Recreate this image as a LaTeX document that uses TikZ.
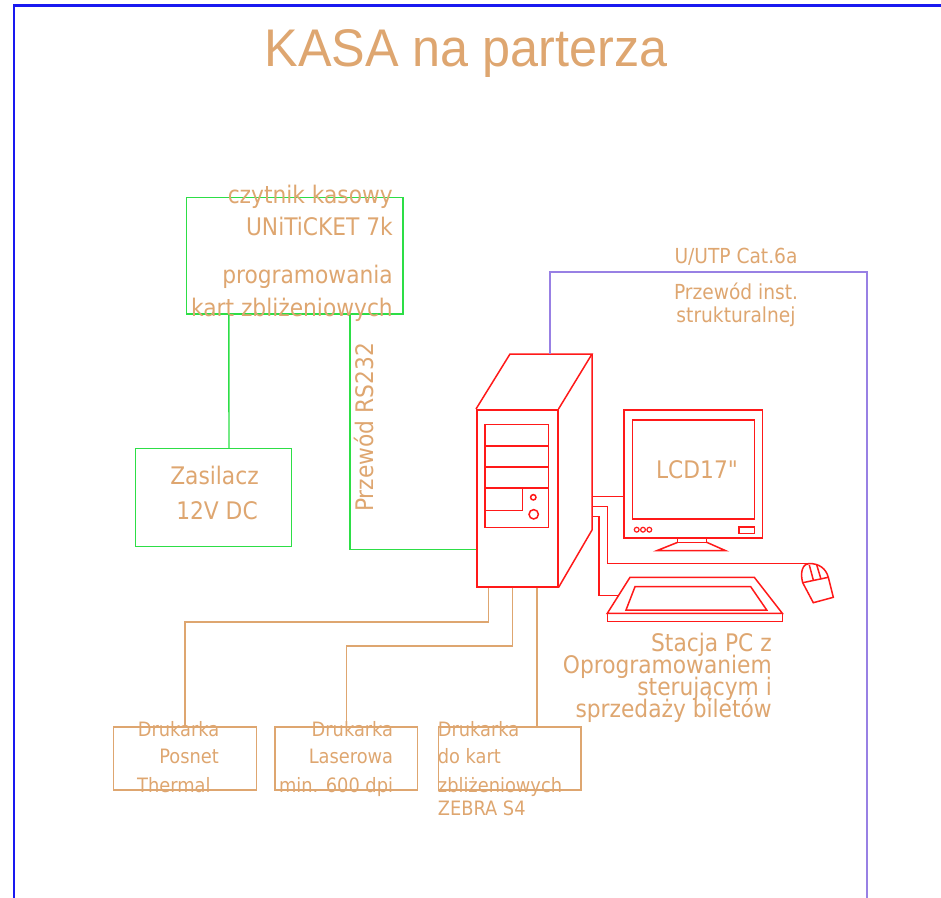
\documentclass[tikz,border=0pt]{standalone}
\usepackage{fontspec}
\setmainfont{DejaVu Sans Condensed}
\newfontfamily\titlefont{Liberation Sans}
\newfontfamily\plainfont{DejaVu Sans Condensed}
\definecolor{labeltan}{RGB}{222,166,112}
\definecolor{wiregreen}{RGB}{45,222,70}
\definecolor{frameblue}{RGB}{25,25,240}
\definecolor{lanviolet}{RGB}{152,128,228}
\definecolor{pcred}{RGB}{255,25,25}
\tikzset{
  box/.style={draw, inner sep=0pt, anchor=north west},
  greenbox/.style={box, draw=wiregreen, line width=1.4pt},
  tanbox/.style={box, draw=labeltan, line width=1.6pt},
  greenwire/.style={draw=wiregreen, line width=1.4pt},
  tanwire/.style={draw=labeltan, line width=1.6pt},
  lanwire/.style={draw=lanviolet, line width=1.9pt},
  pcline/.style={draw=pcred, line width=1.5pt},
  lbl/.style={text=labeltan, inner sep=0pt},
  lblA/.style={lbl, font=\fontsize{24.2}{28}\selectfont},
  lblB/.style={lbl, font=\fontsize{20.7}{24}\selectfont},
  lblC/.style={lbl, font=\fontsize{19.8}{24}\selectfont},
}
\begin{document}
\begin{tikzpicture}[x=1pt,y=-1pt]
\useasboundingbox (0,0) rectangle (941,897);

% outer frame
\draw[frameblue, line width=2.4pt] (14,905) -- (14,5.5) -- (950,5.5);

% title
\node[lbl, font=\titlefont\fontsize{53}{60}\selectfont, anchor=base, xscale=0.95] (title) at (466,66) {KASA na parterza};

% card reader
\node[greenbox, minimum width=216.5pt, minimum height=116.5pt] (reader) at (185.8,196.8) {};
\node[lblA, anchor=base east] (rd1) at (393,203) {czytnik kasowy};
\node[lblA, anchor=base east] (rd2) at (393,235) {UNiTiCKET 7k};
\node[lblA, anchor=base east] (rd3) at (393,283) {programowania};
\node[lblA, anchor=base east] (rd4) at (393,316) {kart zbliżeniowych};

% power supply
\node[greenbox, minimum width=156pt, minimum height=98pt] (supply) at (135,448) {};
\node[lblA, anchor=base] (ps1) at (214.5,484) {Zasilacz};
\node[lblA, anchor=base] (ps2) at (217,519) {12V DC};

% PC tower: front face
\node[box, draw=pcred, line width=1.5pt, minimum width=81pt, minimum height=177pt] (tower) at (476,409) {};
\coordinate (topBL) at (510,354);
\coordinate (topBR) at (592,354);
\coordinate (sideB) at (592,530);
\draw[pcline] (tower.north west) -- (topBL) -- (topBR) -- (tower.north east);
\draw[pcline] (topBR) -- (sideB) -- (tower.south east);
% drive bays and buttons
\draw[pcline] (485,424.3) rectangle (548.7,527.3);
\draw[pcred, line width=2pt] (485,446) -- (548.7,446) (485,467) -- (548.7,467);
\draw[pcline] (485,488) -- (548.7,488);
\draw[pcline] (485,488) rectangle (522.3,510.3);
\draw[pcline] (533.3,497.3) circle (2.7);
\draw[pcline] (533.7,514.3) circle (4.7);

% monitor
\node[box, draw=pcred, line width=1.5pt, minimum width=138.4pt, minimum height=128.3pt] (monitor) at (623.3,409) {};
\draw[pcline] (632.7,420) rectangle (754.3,519);
\node[lblA, font=\plainfont\fontsize{24.2}{28}\selectfont, anchor=center] (lcd) at (697,470) {LCD17"};
\foreach \cx in {636.7,643,649.3} \draw[pcred, line width=1.2pt] (\cx,529.7) circle (2.4);
\draw[pcline] (739,527) rectangle (754.3,533.3);
\draw[pcline] (677.7,537.3) rectangle (706.7,542.3);
\draw[pcline] (677.7,542.3) -- (656.7,550.7) -- (725.7,550.7) -- (706.7,542.3);

% keyboard
\draw[pcline] (630,577.3) -- (754.3,577.3) -- (782.3,613.3) -- (607.3,613.3) -- cycle;
\draw[pcline] (607.3,613.3) rectangle (782.3,621.7);
\draw[pcline] (635,586.7) -- (750.7,586.7) -- (766.7,610) -- (626,610) -- cycle;
\coordinate (kbport) at (618.4,595.7);

% mouse
\coordinate (mouseport) at (809,563.5);
\draw[pcline] (802.7,582.7) .. controls (799.5,571) and (803.5,563.6) .. (mouseport)
  .. controls (819,563.4) and (826,568.5) .. (828.3,577.3) -- (833.3,597.3) -- (813.3,602.7) -- cycle;
\draw[pcline] (802.7,582.7) -- (828.3,577.3);
\draw[pcline] (809.3,565) -- (813.5,580.7);
\draw[pcline] (816.5,564.2) -- (821,579.2);

% PC cables
\coordinate (portMon) at (592,496.5);
\coordinate (portMouse) at (592,506.7);
\coordinate (portKb) at (592,516.7);
\draw[pcline] (portMon) -- (portMon -| monitor.west);
\draw[pcline] (portMouse) -- ++(15.3,0) |- (mouseport);
\draw[pcline] (portKb) -- ++(7,0) |- (kbport);

% PC caption
\node[lblA, anchor=base east] (pc1) at (772,651) {Stacja PC z};
\node[lblA, anchor=base east] (pc2) at (772,673) {Oprogramowaniem};
\node[lblA, anchor=base east] (pc3) at (772,695) {sterującym i};
\node[lblA, anchor=base east] (pc4) at (772,717) {sprzedaży biletów};

% structured cabling
\coordinate (lan) at (550,354);
\coordinate (lanend) at (867,905);
\draw[lanwire] (lan) -- ++(0,-82) -| (lanend);
\node[lblB, anchor=base] (utp1) at (736,263) {U/UTP Cat.6a};
\node[lblB, anchor=base] (utp2) at (736,299.5) {Przewód inst.};
\node[lblB, anchor=base] (utp3) at (736,322) {strukturalnej};

% RS232 and power wiring
\draw[greenwire] ([xshift=43pt]reader.south west) -- ([xshift=94pt]supply.north west);
\draw[greenwire] ([xshift=164.2pt]reader.south west) |- ([yshift=38pt]tower.south west);
\node[lblA, anchor=base west, rotate=90] (rs) at (373,512) {Przewód RS232};

% printers
\node[tanbox, minimum width=143pt, minimum height=63pt] (prn1) at (112.7,726) {};
\node[tanbox, minimum width=142.4pt, minimum height=63pt] (prn2) at (274.3,726) {};
\node[tanbox, minimum width=142.6pt, minimum height=63pt] (prn3) at (437.7,726) {};
\draw[tanwire] ([xshift=12.5pt]tower.south west) -- ++(0,34.5) -| (prn1.north);
\draw[tanwire] ([xshift=36.5pt]tower.south west) -- ++(0,58.7) -| (prn2.north);
\draw[tanwire] ([xshift=61.2pt]tower.south west) -- ([xshift=61.2pt]tower.south west |- prn3.north);

\node[lblC, anchor=base west] (p1a) at (137.7,736) {Drukarka};
\node[lblC, anchor=base east] (p1b) at (219,763) {Posnet};
\node[lblC, anchor=base west] (p1c) at (137,792) {Thermal};
\node[lblC, anchor=base east] (p2a) at (393.3,736) {Drukarka};
\node[lblC, anchor=base east] (p2b) at (393.3,763) {Laserowa};
\node[lblC, anchor=base east] (p2c) at (393.3,792) {min. 600 dpi};
\node[lblC, anchor=base west] (p3a) at (437.7,736) {Drukarka};
\node[lblC, anchor=base west] (p3b) at (437.7,763) {do kart};
\node[lblC, anchor=base west] (p3c) at (437.7,792) {zbliżeniowych};
\node[lblC, anchor=base west] (p3d) at (437.7,815) {ZEBRA S4};
\end{tikzpicture}
\end{document}
